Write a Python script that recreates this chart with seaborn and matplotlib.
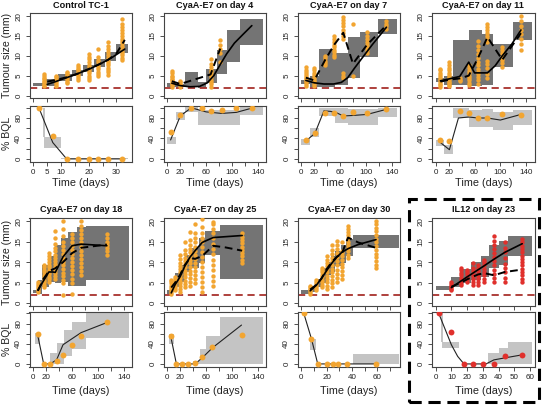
import matplotlib
matplotlib.use("Agg")
import matplotlib.pyplot as plt
import seaborn as sns
import pandas as pd
from matplotlib.patches import Rectangle

sns.set_theme(style="ticks")
plt.rcParams['font.family'] = ['Liberation Sans', 'DejaVu Sans']
plt.rcParams['axes.edgecolor'] = '#333333'
plt.rcParams['axes.linewidth'] = 0.8

# ---------------- data ----------------
titles = ["Control TC-1", "CyaA-E7 on day 4", "CyaA-E7 on day 7", "CyaA-E7 on day 11",
          "CyaA-E7 on day 18", "CyaA-E7 on day 25", "CyaA-E7 on day 30", "IL12 on day 23"]
loq = 2.0

# Panel 1: Control TC-1
p1_dot_t = [4, 8, 12, 16, 20, 23.5, 27, 32]
p1_dot_v = [
    [2.3, 2.7, 3.0, 3.4, 3.7, 4.1, 4.5, 4.9, 5.3],
    [2.5, 2.9, 3.3, 3.8, 4.2, 4.6, 5.0],
    [3.1, 3.5, 3.9, 4.4, 4.8, 5.2, 5.6, 6.0],
    [3.9, 4.4, 4.8, 5.3, 5.8, 6.3, 6.8, 7.3, 7.7],
    [3.9, 4.5, 5.0, 5.6, 6.1, 6.7, 7.3, 7.8, 8.4, 9.1, 9.7, 10.5],
    [4.8, 5.4, 6.0, 6.6, 7.2, 7.8, 8.4, 9.0, 9.8, 11.8],
    [5.2, 5.8, 6.4, 7.0, 7.6, 8.2, 8.8, 9.5, 10.2, 10.9, 11.6, 12.4, 13.5],
    [8.9, 9.5, 10.1, 10.7, 11.3, 11.9, 12.5, 13.1, 13.7, 14.3, 15.0, 15.7, 16.4, 17.2, 18.0, 19.2],
]
p1_med_t = [5, 8, 12, 16, 20, 24, 28, 33]
p1_med_v = [2.8, 3.5, 4.5, 5.5, 6.6, 7.9, 9.4, 11.7]
p1_obs_t = [5, 8, 12, 16, 20, 23.5, 27, 30, 33]
p1_obs_v = [3.5, 3.9, 4.6, 5.5, 6.7, 7.8, 9.0, 10.6, 14.0]
p1_tbox = [(0, 4, 2.5, 3.2), (4, 9, 2.4, 4.2), (9, 14, 3.6, 5.4), (14, 18, 4.8, 6.4),
           (18, 22, 6.0, 7.8), (22, 26, 7.2, 9.2), (26, 30, 8.8, 11.0), (30, 34, 10.6, 13.0)]
p1_bql_t = [2, 7, 12, 16, 20, 23.5, 27, 32]
p1_bql_v = [100, 45, 0, 0, 0, 0, 0, 0]
p1_bline_t = [2, 7, 12, 33]
p1_bline_v = [100, 32, 0, 0]
p1_bbox = [(3.5, 4.3, 42, 100), (4, 10, 22, 42), (10, 34, 0, 1.5)]

# Panel 2: CyaA-E7 on day 4
p2_dot_t = [7, 20, 67, 82]
p2_dot_v = [
    [2.2, 2.6, 3.0, 3.4, 3.8, 4.2, 4.6, 5.0, 5.6, 6.2],
    [2.2, 2.6, 3.0, 3.4, 3.7],
    [2.2, 2.8, 3.4, 4.0, 4.6, 5.2, 5.8, 6.5, 7.3, 8.0, 9.2],
    [8.5, 10.6, 11.8, 12.8, 13.9],
]
p2_med_t = [7, 20, 35, 50, 62, 72, 82, 92, 104, 118, 131]
p2_med_v = [3.1, 2.5, 2.2, 2.3, 3.2, 5.0, 7.8, 10.5, 13.2, 15.5, 17.6]
p2_obs_t = [7, 20, 67, 82]
p2_obs_v = [3.6, 2.9, 5.3, 11.8]
p2_tbox = [(0, 14, 2.1, 3.2), (14, 27, 2.1, 2.8), (27, 48, 2.1, 6.0), (48, 60, 1.8, 3.4),
           (60, 77, 3.1, 6.8), (77, 92, 5.4, 11.4), (92, 113, 8.5, 16.4), (113, 148, 12.7, 19.3)]
p2_bql_t = [5, 20, 37, 54, 68, 84, 106, 132]
p2_bql_v = [52, 86, 100, 100, 94, 96, 100, 99]
p2_bline_t = [5, 20, 37, 60, 84, 107, 133]
p2_bline_v = [37, 84, 100, 92, 89, 91, 100]
p2_bbox = [(0, 14, 29, 42), (14, 27, 77, 92), (27, 48, 92, 104), (48, 113, 66, 96), (113, 148, 86, 104)]

# Panel 3: CyaA-E7 on day 7
p3_dot_t = [7, 20, 37, 51, 65, 80, 102, 132]
p3_dot_v = [
    [2.5, 2.9, 3.3, 3.7, 4.1, 4.5, 4.9, 5.3, 5.8, 6.4, 7.2],
    [2.5, 2.9, 3.3, 3.7, 4.1, 4.6, 5.1, 5.7, 6.3, 7.0],
    [7.6, 8.2, 8.8, 9.4, 10.0],
    [9.7, 10.3, 10.9, 11.5, 12.1, 12.7, 13.4, 14.2, 15.0],
    [4.3, 4.9, 5.6, 14.3, 15.0, 15.8, 16.6, 17.4, 18.2, 19.0, 19.8],
    [5.0, 18.0],
    [10.7, 11.4, 12.1, 12.8, 13.5, 14.3, 15.1, 16.0],
    [16.8, 17.4, 18.1, 18.8],
]
p3_med_t = [7, 20, 35, 50, 62, 72, 82, 95, 110, 132]
p3_med_v = [3.8, 3.2, 2.9, 2.9, 3.3, 4.5, 6.8, 9.6, 12.8, 17.2]
p3_obs_t = [7, 20, 37, 51, 65, 80, 102, 132]
p3_obs_v = [4.5, 3.8, 9.0, 12.8, 15.8, 8.0, 12.8, 17.7]
p3_tbox = [(0, 13, 3.0, 3.9), (13, 27, 2.1, 4.8), (27, 52, 2.1, 11.8), (52, 73, 2.7, 10.6),
           (73, 91, 4.3, 14.8), (91, 119, 9.8, 16.0), (119, 149, 15.6, 19.3)]
p3_bql_t = [7, 21, 37, 51, 65, 80, 102, 132]
p3_bql_v = [37, 50, 90, 89, 84, 92, 89, 97]
p3_bline_t = [7, 21, 35, 45, 55, 65, 80, 102, 132]
p3_bline_v = [35, 50, 94, 93, 90, 84, 85, 87, 97]
p3_bbox = [(0, 13, 27, 38), (13, 27, 42, 60), (27, 52, 84, 100), (52, 73, 70, 100),
           (73, 119, 66, 98), (119, 149, 82, 100)]

# Panel 4: CyaA-E7 on day 11
p4_dot_t = [7, 21, 37, 51, 65, 80, 103, 132]
p4_dot_v = [
    [2.2, 2.6, 3.0, 3.4, 3.8, 4.2, 4.6, 5.1, 5.7, 6.3, 6.8],
    [2.3, 2.7, 3.1, 3.5, 3.9, 4.3, 4.7, 5.2, 5.7, 6.3, 7.0, 7.8, 8.5],
    [3.6, 4.0, 4.4],
    [2.7, 3.2, 3.8, 4.4, 5.0, 5.6, 6.2, 7.0, 7.7],
    [3.0, 3.9, 4.6, 5.3, 6.0, 6.8, 7.6, 8.5, 9.5, 10.5, 11.5, 12.5, 13.8],
    [4.3, 5.5, 7.0, 8.0, 8.6, 13.5, 14.2, 15.0, 15.8, 16.6, 17.3, 18.0],
    [7.3, 8.2, 9.0, 9.8, 10.6, 11.4, 12.3],
    [11.4, 13.0, 14.3, 15.5, 16.5, 17.5, 18.8, 20.0],
]
p4_med_t = [7, 21, 37, 51, 60, 80, 92, 103, 118, 132]
p4_med_v = [3.7, 4.2, 4.8, 8.4, 5.7, 5.7, 7.5, 10.0, 13.0, 16.5]
p4_obs_t = [7, 21, 37, 51, 65, 80, 103, 132]
p4_obs_v = [3.5, 4.0, 4.3, 5.0, 9.3, 14.7, 9.0, 15.7]
p4_tbox = [(0, 13, 3.5, 4.3), (13, 27, 2.7, 4.8), (27, 52, 2.7, 14.0), (52, 72, 2.3, 16.4),
           (72, 89, 2.7, 15.6), (89, 119, 7.3, 13.0), (119, 149, 14.0, 18.5)]
p4_bql_t = [7, 21, 37, 51, 65, 80, 103, 132]
p4_bql_v = [36, 35, 93, 89, 80, 80, 87, 85]
p4_bline_t = [7, 21, 35, 51, 65, 80, 100, 132]
p4_bline_v = [32, 18, 80, 82, 80, 80, 76, 87]
p4_bbox = [(0, 13, 26, 37), (13, 27, 10, 27), (27, 52, 80, 100), (52, 72, 62, 95),
           (72, 89, 62, 97), (89, 119, 56, 92), (119, 149, 67, 95)]

# Panel 5: CyaA-E7 on day 18
p5_dot_t = [7, 16, 24, 34, 46, 60, 74, 114]
p5_dot_v = [
    [2.7, 3.2, 3.7, 4.2, 4.7, 5.2],
    [3.9, 4.5, 5.1, 5.7, 6.3, 6.9, 7.5, 8.1, 8.7, 9.3],
    [5.2, 5.8, 6.4, 7.0, 7.6, 8.2, 8.8, 9.4, 10.0, 10.7, 11.4, 12.2],
    [6.0, 6.7, 7.4, 8.1, 8.8, 9.5, 10.2, 11.0, 11.8, 12.6, 13.5, 14.5, 16.0, 17.5],
    [2.0, 4.8, 5.6, 6.5, 7.4, 8.3, 9.2, 10.1, 11.0, 12.0, 13.0, 14.0, 15.0, 16.5, 18.0, 20.0],
    [2.3, 5.0, 6.0, 7.0, 8.0, 9.0, 10.0, 11.0, 12.0, 13.0, 14.0, 15.0, 16.0, 16.8],
    [6.8, 7.8, 8.8, 9.8, 10.8, 11.8, 12.8, 13.8, 14.8, 15.8, 16.8, 17.8, 18.8, 20.0],
    [11.8, 12.6, 13.4, 14.2, 15.0, 15.8, 16.8],
]
p5_med_t = [7, 16, 24, 30, 34, 46, 60, 74, 114]
p5_med_v = [3.2, 5.5, 7.6, 7.6, 7.5, 11.3, 14.0, 14.4, 14.0]
p5_obs_t = [7, 16, 24, 34, 46, 60, 74, 114]
p5_obs_v = [3.0, 6.0, 7.8, 8.5, 10.0, 12.2, 13.5, 14.3]
p5_tbox = [(0, 7, 2.5, 3.3), (7, 14, 2.3, 5.6), (14, 25, 3.9, 9.3), (25, 34, 5.2, 11.4),
           (34, 43, 4.8, 14.3), (43, 54, 5.2, 16.0), (54, 68, 4.3, 17.3), (68, 82, 4.3, 18.5),
           (82, 148, 5.6, 18.7)]
p5_bql_t = [7, 16, 26, 36, 46, 60, 74, 114]
p5_bql_v = [59, 0, 0, 6, 17, 38, 56, 83]
p5_bline_t = [7, 16, 26, 36, 46, 60, 74, 114]
p5_bline_v = [55, 0, 0, 8, 38, 50, 62, 82]
p5_bbox = [(3, 10, 40, 62), (26, 36, 0, 22), (36, 47, 0, 42), (47, 60, 15, 67),
           (60, 82, 30, 84), (82, 148, 52, 100)]

# Panel 6: CyaA-E7 on day 25
p6_dot_t = [6, 12, 20, 27, 35, 43, 54, 71, 116]
p6_dot_v = [
    [2.3, 2.8, 3.3, 3.8, 4.3, 4.8, 5.3, 5.6],
    [3.1, 3.7, 4.3, 4.9, 5.5, 6.0, 6.4],
    [2.7, 3.4, 4.1, 4.8, 5.5, 6.2, 6.9, 7.6, 8.3, 9.0, 9.8, 10.7, 11.8],
    [3.9, 4.7, 5.5, 6.3, 7.1, 7.9, 8.7, 9.5, 10.3, 11.1, 12.0, 13.0, 14.8],
    [4.3, 5.2, 6.1, 7.0, 7.9, 8.8, 9.7, 10.6, 11.5, 12.4, 13.3, 14.3, 15.5, 17.3],
    [4.8, 5.8, 6.8, 7.8, 8.8, 9.8, 10.8, 11.8, 12.8, 13.8, 14.8, 15.8, 17.0, 19.3],
    [2.7, 4.0, 5.2, 6.4, 7.6, 8.8, 10.0, 11.2, 12.4, 13.6, 14.8, 16.0, 17.2, 18.5, 20.6],
    [4.3, 5.5, 6.7, 8.0, 9.3, 10.6, 11.9, 13.2, 14.5, 15.8, 17.0, 18.2, 19.2, 19.8],
    [9.8, 10.6, 11.4, 12.2, 13.0, 13.8, 14.6, 15.4, 16.2, 17.0],
]
p6_med_t = [6, 12, 20, 27, 35, 43, 54, 71, 116]
p6_med_v = [2.5, 4.5, 6.5, 9.0, 11.2, 12.8, 14.8, 16.0, 16.5]
p6_obs_t = [6, 12, 20, 27, 35, 43, 54, 71, 90, 116]
p6_obs_v = [3.8, 5.0, 7.0, 9.3, 11.0, 10.8, 11.5, 14.0, 13.6, 12.8]
p6_tbox = [(0, 5, 2.3, 3.1), (5, 12.5, 2.7, 4.8), (12.5, 20, 3.9, 7.3), (20, 28, 5.2, 9.3),
           (28, 36, 7.7, 11.8), (36, 49, 8.5, 13.5), (49, 58, 9.8, 16.0), (58, 81, 11.8, 17.7),
           (81, 148, 6.0, 19.0)]
p6_bql_t = [6, 14, 22, 32, 43, 54, 70, 115]
p6_bql_v = [55, 0, 0, 0, 2, 13, 34, 57]
p6_bline_t = [6, 14, 43, 54, 70, 115]
p6_bline_v = [50, 0, 0, 12, 32, 77]
p6_bbox = [(2, 11, 40, 60), (40, 50, 0, 6), (50, 60, 0, 30), (60, 82, 0, 55), (82, 148, 0, 93)]

# Panel 7: CyaA-E7 on day 30
p7_dot_t = [7, 12, 16, 20, 24, 28, 32, 37, 59]
p7_dot_v = [
    [2.3, 2.7, 3.1, 3.5, 3.9, 4.3],
    [3.1, 3.6, 4.1, 4.6, 5.1, 5.6],
    [3.9, 4.5, 5.1, 5.7, 6.3, 6.9, 7.5, 8.1, 8.5],
    [3.5, 4.3, 5.1, 5.9, 6.7, 7.5, 8.3, 9.1, 9.9, 10.6, 11.4],
    [3.9, 4.8, 5.7, 6.6, 7.5, 8.4, 9.3, 10.2, 11.1, 12.0, 12.9, 14.3],
    [5.2, 6.2, 7.2, 8.2, 9.2, 10.2, 11.2, 12.2, 13.2, 14.2, 15.2],
    [6.0, 6.9, 7.8, 8.7, 9.6, 10.5, 11.4, 12.3, 12.7, 14.8],
    [11.0, 11.8, 12.6, 13.4, 14.2, 15.0, 15.8, 16.6, 17.4, 18.2, 18.9],
    [8.5, 9.4, 10.3, 11.2, 12.1, 13.0, 13.9, 14.8, 15.7, 16.6, 17.5, 18.4, 19.3, 20.0],
]
p7_med_t = [7, 12, 16, 20, 24, 28, 32, 37, 45, 59]
p7_med_v = [3.0, 4.4, 6.1, 7.9, 9.7, 11.2, 12.4, 13.3, 14.3, 15.5]
p7_obs_t = [7, 12, 16, 20, 24, 28, 32, 35, 37, 45, 59]
p7_obs_v = [3.3, 4.5, 6.0, 8.3, 10.0, 11.3, 12.0, 14.5, 16.0, 14.8, 13.5]
p7_tbox = [(0, 7.4, 2.3, 3.1), (7.4, 11.5, 2.7, 4.2), (11.5, 15.5, 3.9, 6.0), (15.5, 19.5, 4.8, 8.5),
           (19.5, 23.5, 6.8, 10.0), (23.5, 27, 7.7, 11.4), (27, 31, 9.0, 12.7), (31, 35, 9.8, 14.3),
           (35, 40.5, 11.4, 15.6), (40.5, 77, 13.5, 16.6)]
p7_bql_t = [2, 8, 13, 20, 25, 29, 36.5, 59]
p7_bql_v = [100, 50, 0, 0, 0, 0, 0, 0]
p7_bline_t = [2, 8, 13, 59]
p7_bline_v = [100, 50, 0, 0]
p7_bbox = [(7, 12, 27, 50), (40.5, 77, 0, 20)]

# Panel 8: IL12 on day 23
p8_dot_t = [10, 16, 20, 24, 27, 31, 37, 44, 55]
p8_dot_v = [
    [3.1, 3.5, 3.9, 4.3, 4.7, 5.2],
    [4.4, 5.0, 5.6, 6.2, 6.8, 7.4, 8.0, 8.5],
    [5.2, 5.8, 6.4, 7.0, 7.6, 8.1],
    [4.4, 5.1, 5.8, 6.5, 7.2, 7.9, 8.6, 9.8],
    [4.4, 5.1, 5.8, 6.5, 7.2, 7.9, 8.6, 9.3],
    [5.2, 6.0, 6.8, 7.6, 8.4, 9.2, 10.0, 10.6],
    [5.2, 6.2, 7.2, 8.2, 9.2, 10.2, 11.2, 12.2, 13.2, 14.2, 15.2, 16.5],
    [5.2, 6.2, 7.5, 8.5, 9.5, 11.0, 12.5, 13.5, 14.9],
    [5.2, 6.0, 6.8, 7.6, 8.4, 9.2, 10.0, 10.8, 11.6, 12.4, 13.2, 14.0, 14.8, 15.7],
]
p8_med_t = [10, 20, 30, 37, 44, 55]
p8_med_v = [3.8, 6.4, 8.9, 10.7, 12.4, 14.5]
p8_obs_t = [10, 16, 20, 24, 27, 31, 37, 44, 55]
p8_obs_v = [4.0, 5.0, 5.8, 6.5, 7.0, 7.3, 6.8, 7.6, 8.2]
p8_tbox = [(0, 10, 3.1, 4.3), (10, 16, 3.9, 6.4), (16, 22.5, 5.0, 8.4), (22.5, 29, 5.6, 10.0),
           (29, 33.6, 6.4, 11.4), (33.6, 40, 8.5, 14.3), (40, 46, 9.3, 15.2), (46, 61.5, 11.4, 16.4)]
p8_bql_t = [2, 10, 18, 24, 30, 37, 44, 55]
p8_bql_v = [100, 64, 0, 0, 0, 0, 15, 18]
p8_bline_t = [2, 10, 14, 18, 32, 37, 44, 55]
p8_bline_v = [100, 38, 15, 0, 0, 8, 12, 18]
p8_bbox = [(3.5, 4.8, 43, 100), (4, 15, 32, 43), (33, 40, 0, 22), (40, 46, 0, 32), (46, 61.5, 0, 43)]

# x-axis ticks
ticks_p1 = [0, 5, 10, 15, 20, 25, 30]
labels_p1 = ['0', '5', '10', '', '20', '', '30']
ticks_140 = [0, 20, 40, 60, 80, 100, 120, 140]
labels_140 = ['0', '20', '', '60', '', '100', '', '140']
ticks_p7 = [0, 10, 20, 30, 40, 50, 60, 70]
labels_p7 = ['0', '', '20', '', '40', '', '60', '']
ticks_p8 = [0, 10, 20, 30, 40, 50, 60]
labels_p8 = ['0', '10', '20', '30', '40', '50', '60']
ytick_t = [0, 5, 10, 15, 20]
ytick_b = [0, 20, 40, 60, 80, 100]
ylab_b = ['0', '', '40', '', '80', '']

# ---------------- styling / layout ----------------
ORANGE = '#F2A531'
RED = '#E0302C'
DARK = '#747474'
LIGHT = '#C4C4C4'
LOQC = '#A8322D'

W, H = 542, 408
fig = plt.figure(figsize=(W / 100, H / 100), dpi=100)

col_left = [29.5, 163.5, 297.5, 432.0]
col_w = 102.5
rows = [dict(t_top=13.3, t_bot=98.3, b_top=106.0, b_bot=161.7, title_y=5.5, xlab_y=183.0),
        dict(t_top=218.3, t_bot=306.0, b_top=311.7, b_bot=366.7, title_y=210.0, xlab_y=391.5)]


def ax_at(x0, ytop, w, ybot):
    return fig.add_axes([x0 / W, 1 - ybot / H, w / W, (ybot - ytop) / H])


def boxes(ax, bx, color):
    sub = pd.DataFrame(bx, columns=['x0', 'x1', 'lo', 'hi'])
    ax.bar(sub['x0'], sub['hi'] - sub['lo'], width=sub['x1'] - sub['x0'], bottom=sub['lo'],
           align='edge', color=color, linewidth=0, zorder=1)


def dots_df(ts, vs):
    rows_ = [(t, v) for t, col in zip(ts, vs) for v in col]
    return pd.DataFrame(rows_, columns=['t', 'v'])


panels = [
    (p1_dot_t, p1_dot_v, p1_med_t, p1_med_v, p1_obs_t, p1_obs_v, p1_tbox,
     p1_bql_t, p1_bql_v, p1_bline_t, p1_bline_v, p1_bbox, (-1.4, 35.6), ticks_p1, labels_p1, ORANGE),
    (p2_dot_t, p2_dot_v, p2_med_t, p2_med_v, p2_obs_t, p2_obs_v, p2_tbox,
     p2_bql_t, p2_bql_v, p2_bline_t, p2_bline_v, p2_bbox, (-6, 153), ticks_140, labels_140, ORANGE),
    (p3_dot_t, p3_dot_v, p3_med_t, p3_med_v, p3_obs_t, p3_obs_v, p3_tbox,
     p3_bql_t, p3_bql_v, p3_bline_t, p3_bline_v, p3_bbox, (-6, 153), ticks_140, labels_140, ORANGE),
    (p4_dot_t, p4_dot_v, p4_med_t, p4_med_v, p4_obs_t, p4_obs_v, p4_tbox,
     p4_bql_t, p4_bql_v, p4_bline_t, p4_bline_v, p4_bbox, (-6, 153), ticks_140, labels_140, ORANGE),
    (p5_dot_t, p5_dot_v, p5_med_t, p5_med_v, p5_obs_t, p5_obs_v, p5_tbox,
     p5_bql_t, p5_bql_v, p5_bline_t, p5_bline_v, p5_bbox, (-6, 153), ticks_140, labels_140, ORANGE),
    (p6_dot_t, p6_dot_v, p6_med_t, p6_med_v, p6_obs_t, p6_obs_v, p6_tbox,
     p6_bql_t, p6_bql_v, p6_bline_t, p6_bline_v, p6_bbox, (-6, 153), ticks_140, labels_140, ORANGE),
    (p7_dot_t, p7_dot_v, p7_med_t, p7_med_v, p7_obs_t, p7_obs_v, p7_tbox,
     p7_bql_t, p7_bql_v, p7_bline_t, p7_bline_v, p7_bbox, (-3, 78), ticks_p7, labels_p7, ORANGE),
    (p8_dot_t, p8_dot_v, p8_med_t, p8_med_v, p8_obs_t, p8_obs_v, p8_tbox,
     p8_bql_t, p8_bql_v, p8_bline_t, p8_bline_v, p8_bbox, (-2.3, 62.8), ticks_p8, labels_p8, RED),
]

TICKFS = 5.8
for i, (dt, dv, mt, mv, ot, ov, tb, bt, bv, blt, blv, bb, xlim, xt, xl, pc) in enumerate(panels):
    r = rows[i // 4]
    x0 = col_left[i % 4]
    axt = ax_at(x0, r['t_top'], col_w, r['t_bot'])
    axb = ax_at(x0, r['b_top'], col_w, r['b_bot'])

    # tumour panel
    boxes(axt, tb, DARK)
    axt.axhline(loq, color=LOQC, lw=1.3, ls=(0, (4, 2.6)), zorder=2)
    sns.scatterplot(data=dots_df(dt, dv), x='t', y='v', ax=axt, color=pc, s=10,
                    linewidth=0, zorder=3, legend=False)
    sns.lineplot(x=ot, y=ov, ax=axt, color='black', lw=1.4, ls=(0, (4, 2.4)),
                 estimator=None, sort=False, zorder=4)
    sns.lineplot(x=mt, y=mv, ax=axt, color='black', lw=1.2,
                 estimator=None, sort=False, zorder=5)
    axt.set_xlim(*xlim)
    axt.set_ylim(-0.7, 20.7)
    axt.set_xticks(xt, [''] * len(xt))
    axt.set_yticks(ytick_t, [str(v) for v in ytick_t], rotation=90, va='center')

    # BQL panel
    boxes(axb, bb, LIGHT)
    sns.lineplot(x=blt, y=blv, ax=axb, color='#222222', lw=0.8,
                 estimator=None, sort=False, zorder=3)
    sns.scatterplot(x=bt, y=bv, ax=axb, color=pc, s=18, linewidth=0, zorder=4, legend=False)
    axb.set_xlim(*xlim)
    axb.set_ylim(-5.5, 103.5)
    axb.set_xticks(xt, xl)
    axb.set_yticks(ytick_b, ylab_b, rotation=90, va='center')

    for a in (axt, axb):
        a.set_xlabel('')
        a.set_ylabel('')
        a.tick_params(direction='out', length=3, width=0.6, labelsize=TICKFS, pad=2.2,
                      color='#333333', labelcolor='#222222')
        for s in a.spines.values():
            s.set_color('#444444')
            s.set_linewidth(0.8)

    cx = (x0 + col_w / 2) / W
    fig.text(cx, 1 - r['title_y'] / H, titles[i], ha='center', va='center',
             fontsize=6.6, fontweight='bold', color='#111111')
    fig.text(cx, 1 - r['xlab_y'] / H, 'Time (days)', ha='center', va='center',
             fontsize=7.8, color='#222222')
    if i % 4 == 0:
        fig.text(7.5 / W, 1 - (r['t_top'] + r['t_bot']) / 2 / H, 'Tumour size (mm)',
                 rotation=90, ha='center', va='center', fontsize=7.6, color='#222222')
        fig.text(7.5 / W, 1 - (r['b_top'] + r['b_bot']) / 2 / H, '% BQL',
                 rotation=90, ha='center', va='center', fontsize=7.6, color='#222222')

# dashed frame around the IL12 panel
fig.patches.append(Rectangle((409 / W, 1 - 402 / H), (539 - 409) / W, (402 - 199) / H,
                             transform=fig.transFigure, fill=False, edgecolor='black',
                             lw=2.2, ls=(0, (4, 2.2)), zorder=10))

fig.savefig('out.png', dpi=100)
